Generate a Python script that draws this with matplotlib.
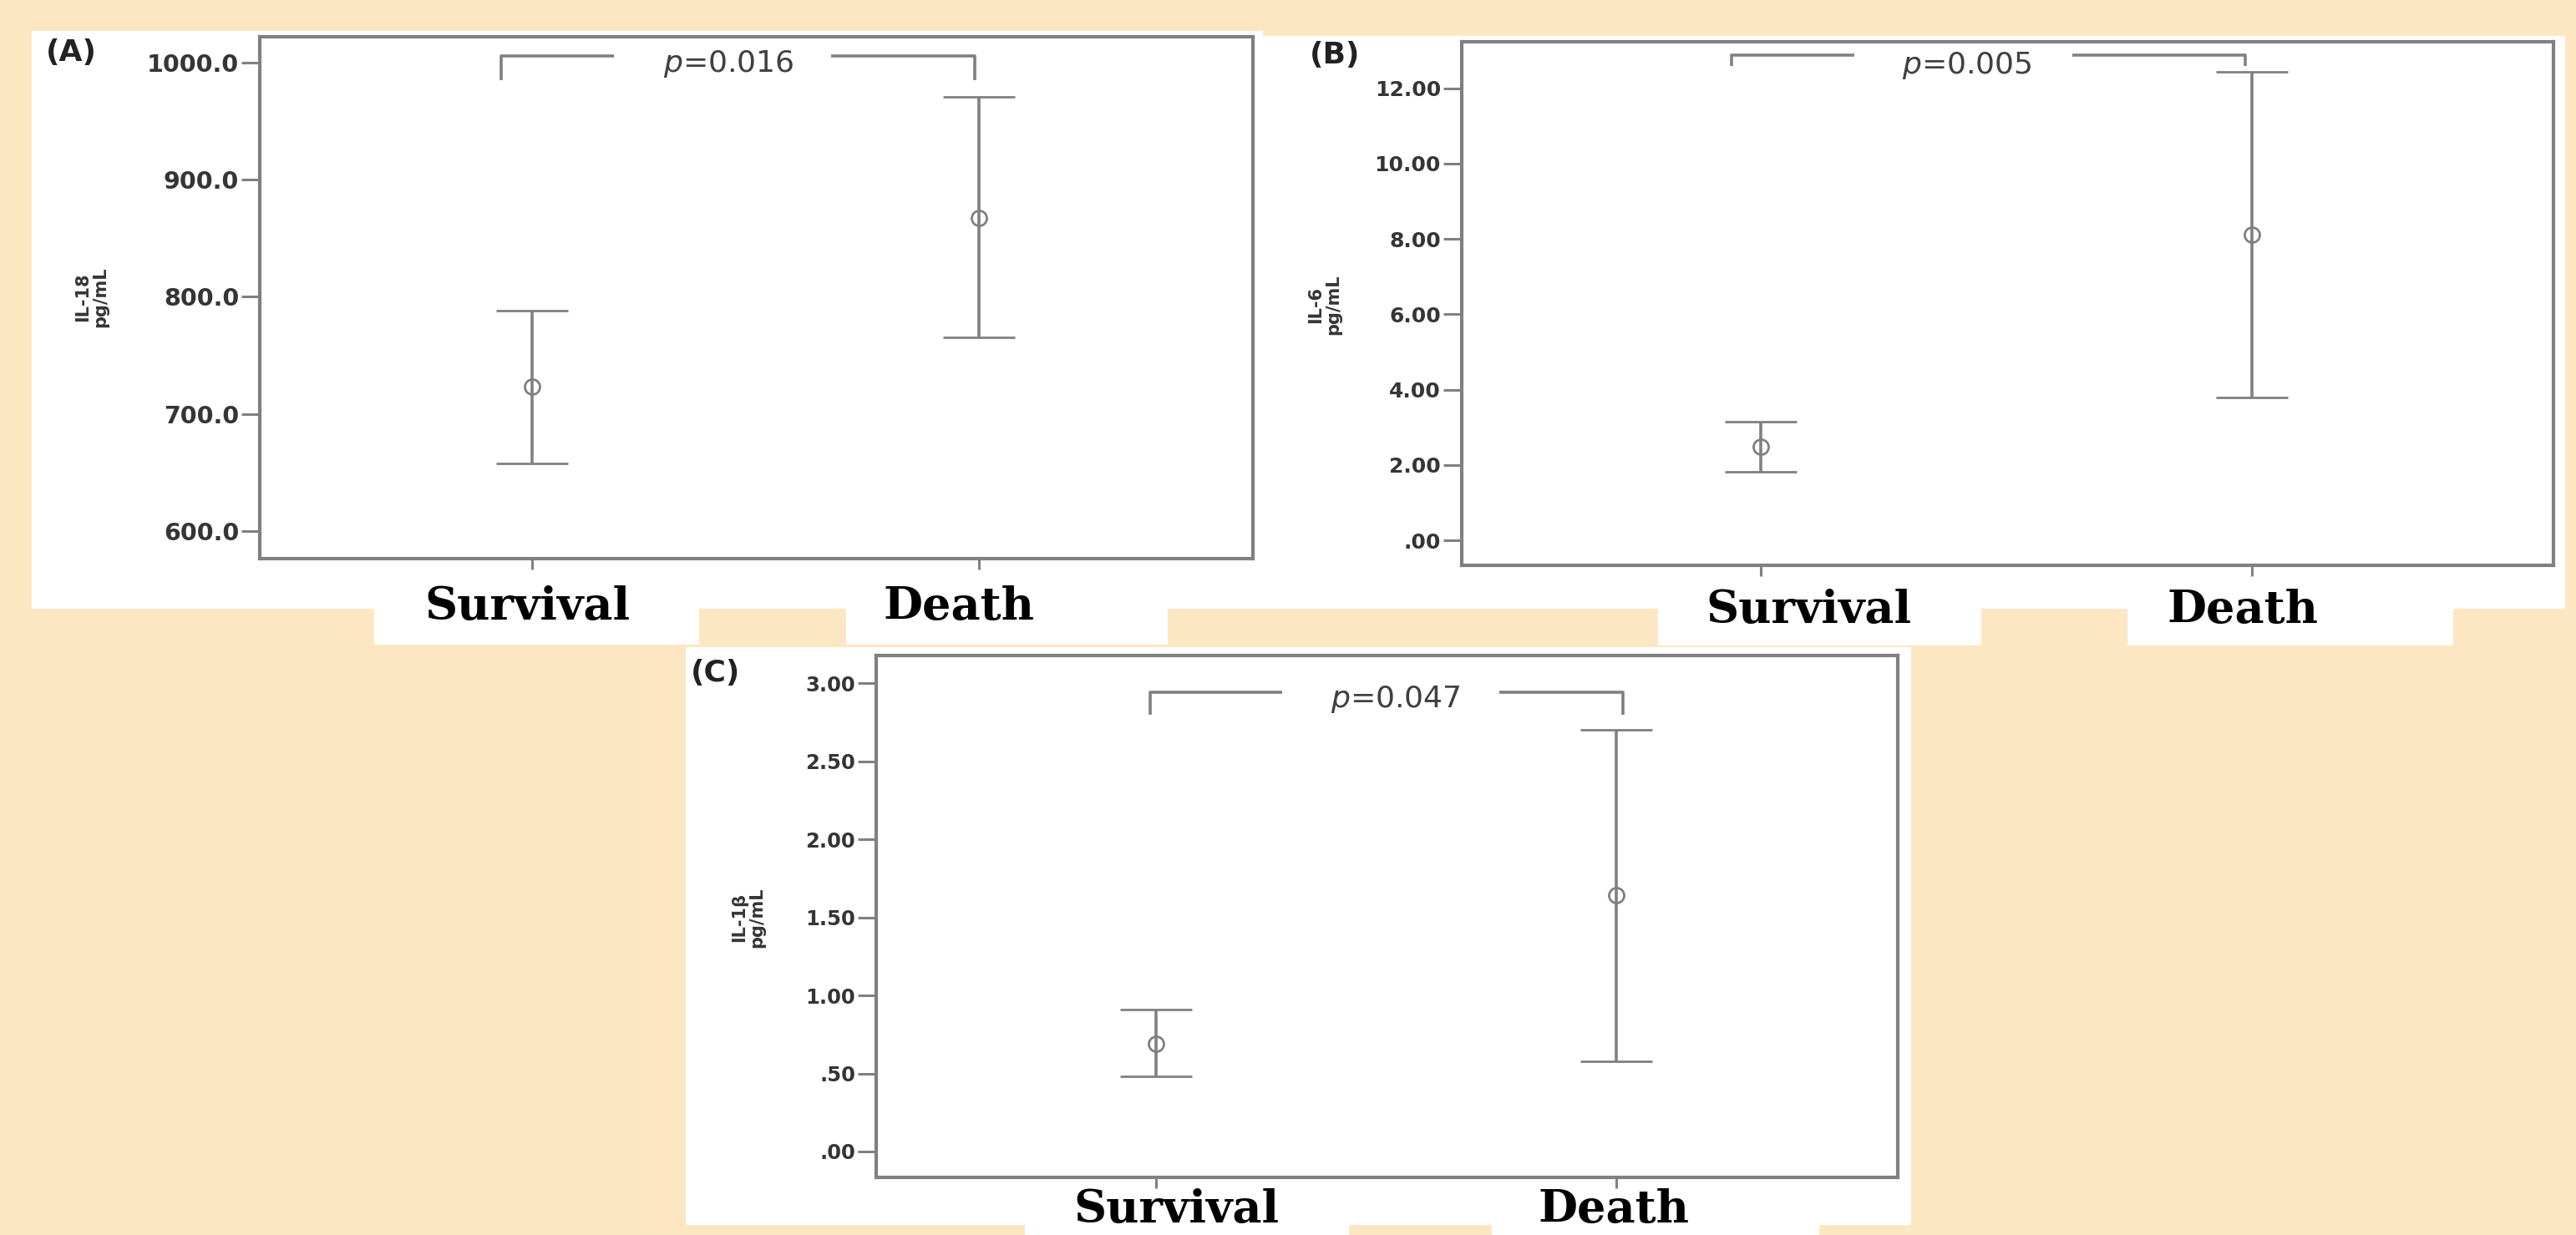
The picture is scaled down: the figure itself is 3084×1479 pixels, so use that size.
import matplotlib
matplotlib.use("Agg")
import matplotlib.pyplot as plt
from matplotlib.patches import Rectangle

W, H = 3084, 1479
DPI = 100

# ---------------- data ----------------
categories = ["Survival", "Death"]

il18_mean = [723.1, 867.5]
il18_lower = [658.0, 765.3]
il18_upper = [788.3, 970.6]
il18_ticks = [600, 700, 800, 900, 1000]
il18_ticklabels = ["600.0", "700.0", "800.0", "900.0", "1000.0"]

il6_mean = [2.48, 8.12]
il6_lower = [1.82, 3.79]
il6_upper = [3.16, 12.44]
il6_ticks = [0, 2, 4, 6, 8, 10, 12]
il6_ticklabels = [".00", "2.00", "4.00", "6.00", "8.00", "10.00", "12.00"]

il1b_mean = [0.69, 1.64]
il1b_lower = [0.48, 0.58]
il1b_upper = [0.91, 2.70]
il1b_ticks = [0, 0.5, 1.0, 1.5, 2.0, 2.5, 3.0]
il1b_ticklabels = [".00", ".50", "1.00", "1.50", "2.00", "2.50", "3.00"]

p_values = ["0.016", "0.005", "0.047"]
panel_tags = ["(A)", "(B)", "(C)"]
ylabels = ["IL-18\npg/mL", "IL-6\npg/mL", "IL-1\u03b2\npg/mL"]

# ---------------- style ----------------
BG = "#FDE7C3"
GRAY = "#808080"
TXT = "#353535"

fig = plt.figure(figsize=(W / DPI, H / DPI), dpi=DPI, facecolor=BG)


def px_rect(x0, y0, x1, y1):
    fig.patches.append(Rectangle((x0 / W, 1 - y1 / H), (x1 - x0) / W, (y1 - y0) / H,
                                 transform=fig.transFigure, facecolor="white",
                                 edgecolor="none", zorder=-5))


def px_axes(x0, y0, x1, y1):
    return fig.add_axes([x0 / W, 1 - y1 / H, (x1 - x0) / W, (y1 - y0) / H])


# white panel backgrounds and label boxes
for r in [(38, 37, 1512, 729), (448, 729, 837, 772), (1013, 729, 1398, 772),
          (1512, 43, 3071, 729), (1985, 729, 2372, 773), (2547, 729, 2937, 773),
          (821, 775, 2288, 1467), (1227, 1467, 1615, 1479), (1786, 1467, 2178, 1479)]:
    px_rect(*r)

panels = [
    dict(box=(311, 44, 1500, 669), mean=il18_mean, lo=il18_lower, hi=il18_upper,
         ticks=il18_ticks, tlabels=il18_ticklabels, ylim=(576.5, 1021.8), tfs=20.5,
         br_x=(-0.069, -0.01), br_gap=(0.183, 0.669), br_y=(1005.4, 985.0),
         p_xy=(0.44, 999.0), tag_px=(85, 63), ylab_px=(110, 356),
         lab_dx=(-0.011, -0.045), lab_base_px=73),
    dict(box=(1750, 50, 3057, 677), mean=il6_mean, lo=il6_lower, hi=il6_upper,
         ticks=il6_ticks, tlabels=il6_ticklabels, ylim=(-0.662, 13.235), tfs=18,
         br_x=(-0.06, -0.015), br_gap=(0.19, 0.633), br_y=(12.88, 12.6),
         p_xy=(0.42, 12.6), tag_px=(1598, 66), ylab_px=(1586, 365),
         lab_dx=(0.097, -0.02), lab_base_px=69),
    dict(box=(1049, 785, 2272, 1410), mean=il1b_mean, lo=il1b_lower, hi=il1b_upper,
         ticks=il1b_ticks, tlabels=il1b_ticklabels, ylim=(-0.166, 3.178), tfs=17.5,
         br_x=(-0.013, 0.016), br_gap=(0.274, 0.746), br_y=(2.94, 2.80),
         p_xy=(0.52, 2.895), tag_px=(857, 806), ylab_px=(896, 1099),
         lab_dx=(0.044, -0.004), lab_base_px=54),
]

xpos = list(range(len(categories)))

for i, P in enumerate(panels):
    ax = px_axes(*P["box"])
    ax.set_facecolor("white")
    yerr = [[m - l for m, l in zip(P["mean"], P["lo"])],
            [h - m for m, h in zip(P["mean"], P["hi"])]]
    ax.errorbar(xpos, P["mean"], yerr=yerr, fmt="o", color=GRAY, ecolor=GRAY,
                elinewidth=2.6, capsize=31, capthick=2.6, markersize=13,
                markerfacecolor="none", markeredgecolor=GRAY, markeredgewidth=2.0,
                zorder=3)
    ax.set_xlim(-0.609, 1.613)
    ax.set_ylim(*P["ylim"])
    ax.set_xticks(xpos)
    ax.set_xticklabels([])
    for x, name, dx in zip(xpos, categories, P["lab_dx"]):
        ax.annotate(name, xy=(x + dx, 0), xycoords=("data", "axes fraction"),
                    xytext=(0, -P["lab_base_px"] * 72 / DPI), textcoords="offset points",
                    ha="center", va="baseline", family="DejaVu Serif",
                    fontweight="bold", fontsize=39, color="black", annotation_clip=False)
    ax.set_yticks(P["ticks"])
    ax.set_yticklabels(P["tlabels"], family="DejaVu Sans", fontweight="bold",
                       fontsize=P["tfs"], color=TXT)
    ax.tick_params(axis="y", direction="out", length=16, width=2.2, color=GRAY, pad=2)
    ax.tick_params(axis="x", direction="out", length=9, width=2.2, color=GRAY)
    for s in ax.spines.values():
        s.set_color(GRAY)
        s.set_linewidth(3.0)

    # significance bracket
    xl, xr = P["br_x"][0], 1 + P["br_x"][1]
    yt, yb = P["br_y"]
    g0, g1 = P["br_gap"]
    ax.plot([xl, xl, g0], [yb, yt, yt], color=GRAY, lw=2.6, solid_capstyle="butt")
    ax.plot([g1, xr, xr], [yt, yt, yb], color=GRAY, lw=2.6, solid_capstyle="butt")
    ax.text(P["p_xy"][0], P["p_xy"][1], r"$p$=" + p_values[i], ha="center", va="center",
            fontsize=26, color="#404040", family="DejaVu Sans")

    # panel tag and y label
    fig.text(P["tag_px"][0] / W, 1 - P["tag_px"][1] / H, panel_tags[i], ha="center",
             va="center", fontsize=26, fontweight="bold", color="#222222",
             family="DejaVu Sans")
    fig.text(P["ylab_px"][0] / W, 1 - P["ylab_px"][1] / H, ylabels[i], ha="center",
             va="center", rotation=90, fontsize=15, fontweight="bold", color=TXT,
             family="DejaVu Sans", multialignment="center", linespacing=1.05)

fig.savefig("out.png", dpi=DPI, facecolor=BG)
